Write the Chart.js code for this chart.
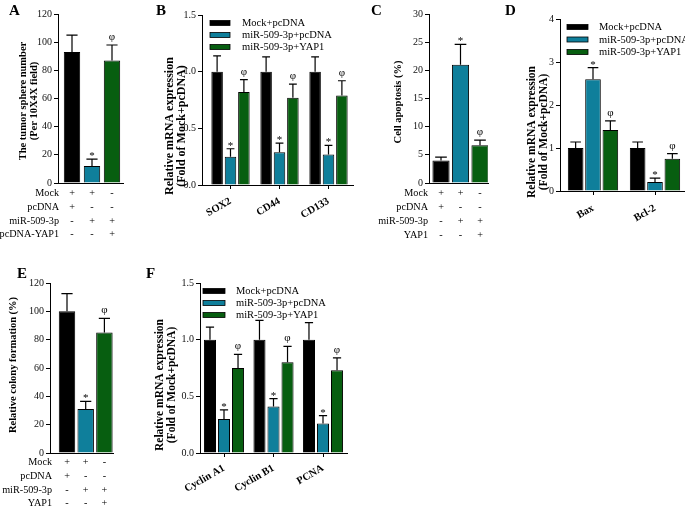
<!DOCTYPE html>
<html><head><meta charset="utf-8">
<script src="https://cdn.jsdelivr.net/npm/chart.js@4.4.0/dist/chart.umd.min.js"></script>
<style>
html,body{margin:0;padding:0;background:#fff;}
#wrap{position:relative;width:685px;height:507px;overflow:hidden;background:#fff;}
canvas{position:absolute;left:0;top:0;}
.lbl{position:absolute;font:bold 15px "Liberation Serif","Times New Roman",serif;color:#000;line-height:1;}
</style></head><body>
<div id="wrap">
<canvas id="cA" width="685" height="507"></canvas>
<canvas id="cB" width="685" height="507"></canvas>
<canvas id="cC" width="685" height="507"></canvas>
<canvas id="cD" width="685" height="507"></canvas>
<canvas id="cE" width="685" height="507"></canvas>
<canvas id="cF" width="685" height="507"></canvas>
<div class="lbl" style="left:9px;top:3px">A</div>
<div class="lbl" style="left:156px;top:3px">B</div>
<div class="lbl" style="left:371px;top:3px">C</div>
<div class="lbl" style="left:505px;top:3px">D</div>
<div class="lbl" style="left:17px;top:266px">E</div>
<div class="lbl" style="left:146px;top:266px">F</div>
</div>
<script>
// ---------------- data ----------------
const groupNames = ['Mock+pcDNA', 'miR-509-3p+pcDNA', 'miR-509-3p+YAP1'];
const barColors = ['#000000', '#0f7f9b', '#075e10'];

// A: tumor sphere number
const sphereGroups = ['Mock+pcDNA', 'miR-509-3p+pcDNA', 'miR-509-3p+pcDNA-YAP1'];
const sphereMean = [93, 12, 87];
const sphereErr = [12, 5, 11];
const sphereMarks = ['', '*', 'φ'];
const sphereTicks = [0, 20, 40, 60, 80, 100, 120];
const sphereRows = ['Mock', 'pcDNA', 'miR-509-3p', 'pcDNA-YAP1'];
const sphereSigns = [['+', '+', '-'], ['+', '-', '-'], ['-', '+', '+'], ['-', '-', '+']];

// B: stemness mRNA
const stemGenes = ['SOX2', 'CD44', 'CD133'];
const stemMock = [1.00, 1.00, 1.00];
const stemMockErr = [0.14, 0.13, 0.13];
const stemMiR = [0.25, 0.29, 0.27];
const stemMiRErr = [0.07, 0.08, 0.08];
const stemYAP = [0.82, 0.77, 0.79];
const stemYAPErr = [0.11, 0.12, 0.13];
const stemTicks = [0, 0.5, 1.0, 1.5];

// C: cell apoptosis
const apopGroups = ['Mock+pcDNA', 'miR-509-3p+pcDNA', 'miR-509-3p+YAP1'];
const apopMean = [4.0, 21.0, 6.7];
const apopErr = [0.6, 3.6, 0.9];
const apopMarks = ['', '*', 'φ'];
const apopTicks = [0, 5, 10, 15, 20, 25, 30];
const apopRows = ['Mock', 'pcDNA', 'miR-509-3p', 'YAP1'];
const apopSigns = [['+', '+', '-'], ['+', '-', '-'], ['-', '+', '+'], ['-', '-', '+']];

// D: Bax / Bcl-2 mRNA
const apoGenes = ['Bax', 'Bcl-2'];
const apoMock = [1.00, 1.00];
const apoMockErr = [0.14, 0.14];
const apoMiR = [2.60, 0.21];
const apoMiRErr = [0.27, 0.09];
const apoYAP = [1.42, 0.75];
const apoYAPErr = [0.21, 0.12];
const apoTicks = [0, 1, 2, 3, 4];

// E: colony formation
const colonyGroups = ['Mock+pcDNA', 'miR-509-3p+pcDNA', 'miR-509-3p+YAP1'];
const colonyMean = [100, 31, 85];
const colonyErr = [12.5, 5.4, 10];
const colonyMarks = ['', '*', 'φ'];
const colonyTicks = [0, 20, 40, 60, 80, 100, 120];
const colonyRows = ['Mock', 'pcDNA', 'miR-509-3p', 'YAP1'];
const colonySigns = [['+', '+', '-'], ['+', '-', '-'], ['-', '+', '+'], ['-', '-', '+']];

// F: cell cycle mRNA
const cycGenes = ['Cyclin A1', 'Cyclin B1', 'PCNA'];
const cycMock = [1.00, 1.00, 1.00];
const cycMockErr = [0.11, 0.17, 0.15];
const cycMiR = [0.30, 0.41, 0.26];
const cycMiRErr = [0.08, 0.07, 0.07];
const cycYAP = [0.75, 0.80, 0.73];
const cycYAPErr = [0.12, 0.14, 0.11];
const cycTicks = [0, 0.5, 1.0, 1.5];

// ---------------- helpers ----------------
const W = 685, H = 507;
const SERIF = '"Liberation Serif", "Times New Roman", Times, serif';

function extrasPlugin(cfg) {
  return {
    id: 'extras',
    afterDraw(chart) {
      const ctx = chart.ctx, xs = chart.scales.x, ys = chart.scales.y;
      ctx.save();
      ctx.strokeStyle = '#000';
      ctx.fillStyle = '#000';
      ctx.lineWidth = 1.2;
      // error bars + significance marks
      chart.data.datasets.forEach((ds, di) => {
        const meta = chart.getDatasetMeta(di);
        meta.data.forEach((bar, i) => {
          const v = ds.data[i], e = ds.errors[i];
          const yv = ys.getPixelForValue(v), ye = ys.getPixelForValue(v + e);
          const half = bar.width * 0.34;
          ctx.beginPath();
          ctx.moveTo(bar.x, yv); ctx.lineTo(bar.x, ye);
          ctx.moveTo(bar.x - half, ye); ctx.lineTo(bar.x + half, ye);
          ctx.stroke();
          const m = ds.marks ? ds.marks[i] : '';
          if (m) {
            ctx.font = '11px ' + SERIF;
            ctx.textAlign = 'center';
            ctx.textBaseline = 'alphabetic';
            ctx.fillText(m, bar.x, ye - (m === '*' ? 0 : 5));
          }
        });
      });
      // y title
      const yt = cfg.yTitle;
      ctx.font = 'bold ' + yt.size + 'px ' + SERIF;
      ctx.textAlign = 'center';
      ctx.textBaseline = 'middle';
      yt.lines.forEach((line, k) => {
        ctx.save();
        ctx.translate(yt.xs[k], yt.cy);
        ctx.rotate(-Math.PI / 2);
        ctx.fillText(line, 0, 0);
        ctx.restore();
      });
      // treatment table
      if (cfg.table) {
        const t = cfg.table;
        ctx.font = '10.2px ' + SERIF;
        ctx.textBaseline = 'middle';
        t.rows.forEach((row, r) => {
          ctx.textAlign = 'right';
          ctx.fillText(row, t.right, t.ys[r]);
          ctx.textAlign = 'center';
          t.signs[r].forEach((s, j) => {
            ctx.fillText(s, xs.getPixelForValue(j) + (t.dx || 0), t.ys[r]);
          });
        });
      }
      // legend
      if (cfg.legend) {
        const lg = cfg.legend;
        ctx.font = '10.5px ' + SERIF;
        ctx.textAlign = 'left';
        ctx.textBaseline = 'middle';
        chart.data.datasets.forEach((ds, di) => {
          const y = lg.ys[di];
          ctx.fillStyle = ds.backgroundColor;
          ctx.fillRect(lg.bx, y - 2.5, lg.bw, 5);
          ctx.lineWidth = 0.8;
          ctx.strokeStyle = '#000';
          ctx.strokeRect(lg.bx, y - 2.5, lg.bw, 5);
          ctx.fillStyle = '#000';
          ctx.fillText(ds.label, lg.tx, y + 0.5);
        });
      }
      ctx.restore();
    }
  };
}

function makeChart(id, cfg) {
  const a = cfg.area;
  const tk = cfg.ticks;
  return new Chart(document.getElementById(id), {
    type: 'bar',
    data: { labels: cfg.labels, datasets: cfg.datasets },
    options: {
      responsive: false,
      animation: false,
      events: [],
      layout: { padding: { left: 0, top: a.t, right: W - a.r, bottom: 0 } },
      datasets: { bar: { categoryPercentage: cfg.catPct, barPercentage: cfg.barPct } },
      plugins: { legend: { display: false }, tooltip: { enabled: false } },
      scales: {
        x: {
          afterFit: s => { s.height = H - a.b; },
          afterBuildTicks: s => {
            s._startValue = -(a.c0 - a.l) / a.sp;
            s._valueRange = (a.r - a.l) / a.sp;
          },
          grid: { display: cfg.xTicks, drawOnChartArea: false, offset: false, tickLength: 4, color: '#000', lineWidth: 1 },
          border: { display: true, color: '#000', width: 1 },
          ticks: {
            display: cfg.xLabels,
            autoSkip: false,
            maxRotation: 30, minRotation: 30,
            padding: cfg.xPad || 6,
            color: '#000',
            font: { family: SERIF, size: 10.5, weight: 'bold' }
          }
        },
        y: {
          min: tk[0], max: tk[tk.length - 1],
          afterFit: s => { s.width = a.l; },
          grid: { display: true, drawOnChartArea: false, tickLength: 4, color: '#000', lineWidth: 1 },
          border: { display: true, color: '#000', width: 1 },
          ticks: {
            stepSize: tk[1] - tk[0],
            padding: 2,
            color: '#111',
            font: { family: SERIF, size: 10 },
            callback: v => cfg.fmt ? Number(v).toFixed(cfg.fmt) : v
          },
          title: { display: false }
        }
      }
    },
    plugins: [extrasPlugin(cfg)]
  });
}

function single(labels, mean, err, marks) {
  return [{ label: 'value', data: mean, errors: err, marks: marks,
    backgroundColor: barColors, borderColor: '#000', borderWidth: 1 }];
}
function triple(m0, e0, m1, e1, m2, e2, n) {
  const blank = new Array(n).fill('');
  return [
    { label: groupNames[0], data: m0, errors: e0, marks: blank, backgroundColor: barColors[0], borderColor: '#000', borderWidth: 1 },
    { label: groupNames[1], data: m1, errors: e1, marks: new Array(n).fill('*'), backgroundColor: barColors[1], borderColor: '#000', borderWidth: 1 },
    { label: groupNames[2], data: m2, errors: e2, marks: new Array(n).fill('φ'), backgroundColor: barColors[2], borderColor: '#000', borderWidth: 1 }
  ];
}

// ---------------- charts ----------------
makeChart('cA', {
  area: { l: 58, t: 14, r: 123, b: 183, c0: 72, sp: 20 },
  labels: sphereGroups, datasets: single(sphereGroups, sphereMean, sphereErr, sphereMarks),
  ticks: sphereTicks, catPct: 1, barPct: 0.82, xLabels: false, xTicks: false,
  yTitle: { lines: ['The tumor sphere number', '(Per 10X4X field)'], xs: [23, 34], cy: 101, size: 10.5 },
  table: { rows: sphereRows, signs: sphereSigns, right: 59, ys: [193, 207.5, 221, 234.5] }
});

makeChart('cB', {
  area: { l: 202, t: 15, r: 353, b: 185, c0: 230.5, sp: 49 },
  labels: stemGenes, datasets: triple(stemMock, stemMockErr, stemMiR, stemMiRErr, stemYAP, stemYAPErr, 3),
  ticks: stemTicks, fmt: 1, catPct: 0.82, barPct: 0.86, xLabels: true, xTicks: true, xPad: 6,
  yTitle: { lines: ['Relative mRNA expression', '(Fold of Mock+pcDNA)'], xs: [170, 182], cy: 126, size: 12 },
  legend: { bx: 210, bw: 20, tx: 242, ys: [23, 35, 47] }
});

makeChart('cC', {
  area: { l: 429, t: 14, r: 488, b: 183, c0: 441, sp: 19.5 },
  labels: apopGroups, datasets: single(apopGroups, apopMean, apopErr, apopMarks),
  ticks: apopTicks, catPct: 1, barPct: 0.88, xLabels: false, xTicks: false,
  yTitle: { lines: ['Cell apoptosis (%)'], xs: [398], cy: 102, size: 10.5 },
  table: { rows: apopRows, signs: apopSigns, right: 428, ys: [193, 207.5, 221, 235] }
});

makeChart('cD', {
  area: { l: 560, t: 19, r: 685, b: 191, c0: 593, sp: 62 },
  labels: apoGenes, datasets: triple(apoMock, apoMockErr, apoMiR, apoMiRErr, apoYAP, apoYAPErr, 2),
  ticks: apoTicks, catPct: 0.84, barPct: 0.9, xLabels: true, xTicks: true, xPad: 7,
  yTitle: { lines: ['Relative mRNA expression', '(Fold of Mock+pcDNA)'], xs: [532, 544], cy: 132, size: 11.5 },
  legend: { bx: 567, bw: 21, tx: 599, ys: [27, 39.5, 52] }
});

makeChart('cE', {
  area: { l: 50, t: 283, r: 113, b: 453, c0: 67, sp: 18.7 },
  labels: colonyGroups, datasets: single(colonyGroups, colonyMean, colonyErr, colonyMarks),
  ticks: colonyTicks, catPct: 1, barPct: 0.88, xLabels: false, xTicks: false,
  yTitle: { lines: ['Relative colony formation (%)'], xs: [13], cy: 365, size: 10.5 },
  table: { rows: colonyRows, signs: colonySigns, right: 52, ys: [462, 476.5, 490, 503] }
});

makeChart('cF', {
  area: { l: 200, t: 283, r: 347, b: 453, c0: 224, sp: 49.5 },
  labels: cycGenes, datasets: triple(cycMock, cycMockErr, cycMiR, cycMiRErr, cycYAP, cycYAPErr, 3),
  ticks: cycTicks, fmt: 1, catPct: 0.85, barPct: 0.86, xLabels: true, xTicks: true, xPad: 5,
  yTitle: { lines: ['Relative mRNA expression', '(Fold of Mock+pcDNA)'], xs: [160, 172], cy: 385, size: 11.5 },
  legend: { bx: 203, bw: 22, tx: 236, ys: [291, 303, 315] }
});
</script>
</body></html>
